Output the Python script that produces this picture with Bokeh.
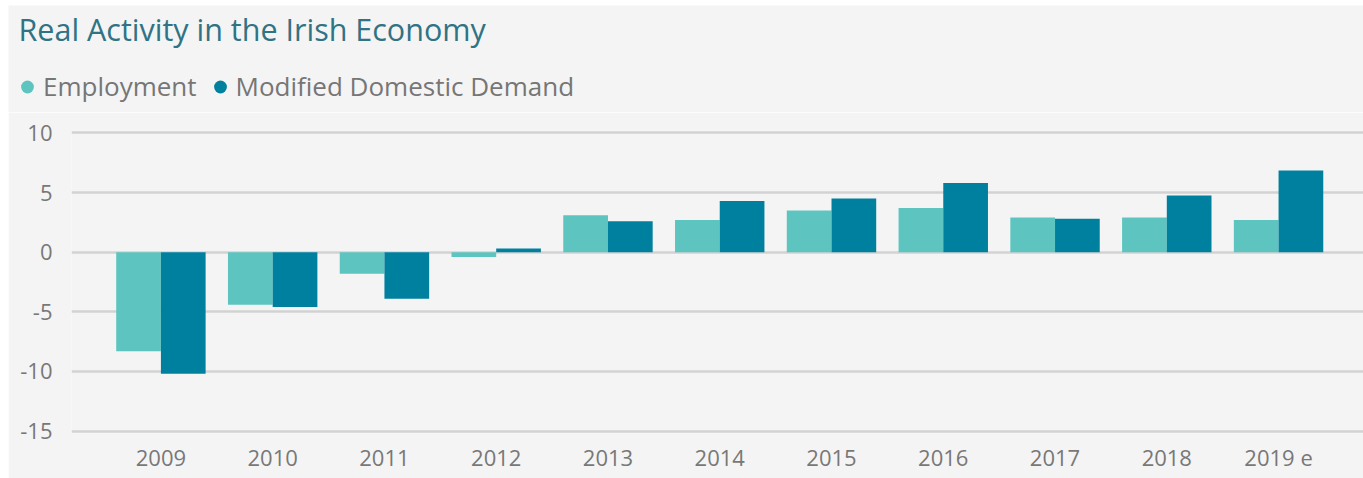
from bokeh.plotting import figure
from bokeh.layouts import column, row
from bokeh.models import (Range1d, FixedTicker, Legend, LegendItem,
                          ColumnDataSource, Label, Spacer)
from bokeh.embed import file_html
from bokeh.resources import INLINE

years = ["2009", "2010", "2011", "2012", "2013", "2014", "2015", "2016",
         "2017", "2018", "2019 e"]
employment = [-8.3, -4.4, -1.8, -0.4, 3.1, 2.7, 3.5, 3.7, 2.9, 2.9, 2.7]
mdd = [-10.2, -4.6, -3.9, 0.3, 2.6, 4.3, 4.5, 5.8, 2.8, 4.75, 6.85]
y_ticks = [-15, -10, -5, 0, 5, 10]
y_labels = ["-15", "-10", "-5", "0", "5", "10"]
series_names = ["Employment", "Modified Domestic Demand"]
title_text = "Real Activity in the Irish Economy"

EMP_C = "#5ec4bf"
MDD_C = "#00809f"
FONT = "Open Sans"
BG = "#f4f4f4"
TICK_C = "#787878"

# ---------------- header: title + legend ----------------
head = figure(width=1355, height=107, output_backend="svg", toolbar_location=None,
              x_range=Range1d(8, 1363), y_range=Range1d(112, 5),
              x_axis_location=None, y_axis_location=None,
              min_border=0)
head.background_fill_color = BG
head.border_fill_color = BG
head.outline_line_color = None
head.grid.grid_line_color = None

head.add_layout(Label(x=18, y=28, text=title_text, text_font=FONT,
                      text_font_size="30.5px", text_color="#2f7384",
                      text_baseline="middle", text_align="left"))

d1 = head.scatter(x=[0], y=[-100], marker="circle", size=14, fill_color=EMP_C,
                  line_color=None)
d2 = head.scatter(x=[0], y=[-100], marker="circle", size=14, fill_color=MDD_C,
                  line_color=None)
legend = Legend(items=[LegendItem(label=series_names[0], renderers=[d1]),
                       LegendItem(label=series_names[1], renderers=[d2])],
                orientation="horizontal", location=(3, 8),
                background_fill_alpha=0, border_line_color=None,
                label_text_font=FONT, label_text_font_size="26px",
                label_text_color="#767676", glyph_width=32, glyph_height=35,
                label_height=35, spacing=7, label_standoff=0, padding=0,
                margin=0)
head.add_layout(legend)

# ---------------- chart ----------------
idx = list(range(len(years)))
src = ColumnDataSource(dict(
    x_emp=[i - 0.2 for i in idx],
    x_mdd=[i + 0.2 for i in idx],
    emp=employment, mdd=mdd))

p = figure(width=1355, height=366, output_backend="svg", toolbar_location=None,
           x_range=Range1d(-0.8, 10.76), y_range=Range1d(-15.2, 10.2),
           min_border_left=63, min_border_right=0, min_border_top=18,
           min_border_bottom=45)
p.background_fill_color = BG
p.border_fill_color = BG
p.outline_line_color = None

p.vbar(x="x_emp", top="emp", bottom=0, width=0.4, source=src,
       fill_color=EMP_C, line_color=None)
p.vbar(x="x_mdd", top="mdd", bottom=0, width=0.4, source=src,
       fill_color=MDD_C, line_color=None)

p.xaxis.ticker = FixedTicker(ticks=idx)
p.xaxis.major_label_overrides = {i: y for i, y in zip(idx, years)}
p.yaxis.ticker = FixedTicker(ticks=y_ticks)
p.yaxis.major_label_overrides = {t: l for t, l in zip(y_ticks, y_labels)}
for ax in (p.xaxis[0], p.yaxis[0]):
    ax.axis_line_color = None
    ax.major_tick_line_color = None
    ax.minor_tick_line_color = None
    ax.major_tick_out = 0
    ax.major_tick_in = 0
    ax.minor_tick_out = 0
    ax.major_label_text_font = FONT
    ax.major_label_text_font_size = "22px"
    ax.major_label_text_color = TICK_C
p.yaxis.major_label_standoff = 19
p.xaxis.major_label_standoff = 8
p.xgrid.grid_line_color = None
p.ygrid.grid_line_color = "#d2d2d2"
p.ygrid.grid_line_width = 2.5

# two separate roots, so the header frame is not aligned to the chart frame
top_root = row(Spacer(width=8), column(Spacer(height=5), head))
bottom_root = row(Spacer(width=8), p)
open("out.html", "w").write(file_html([top_root, bottom_root], INLINE))
